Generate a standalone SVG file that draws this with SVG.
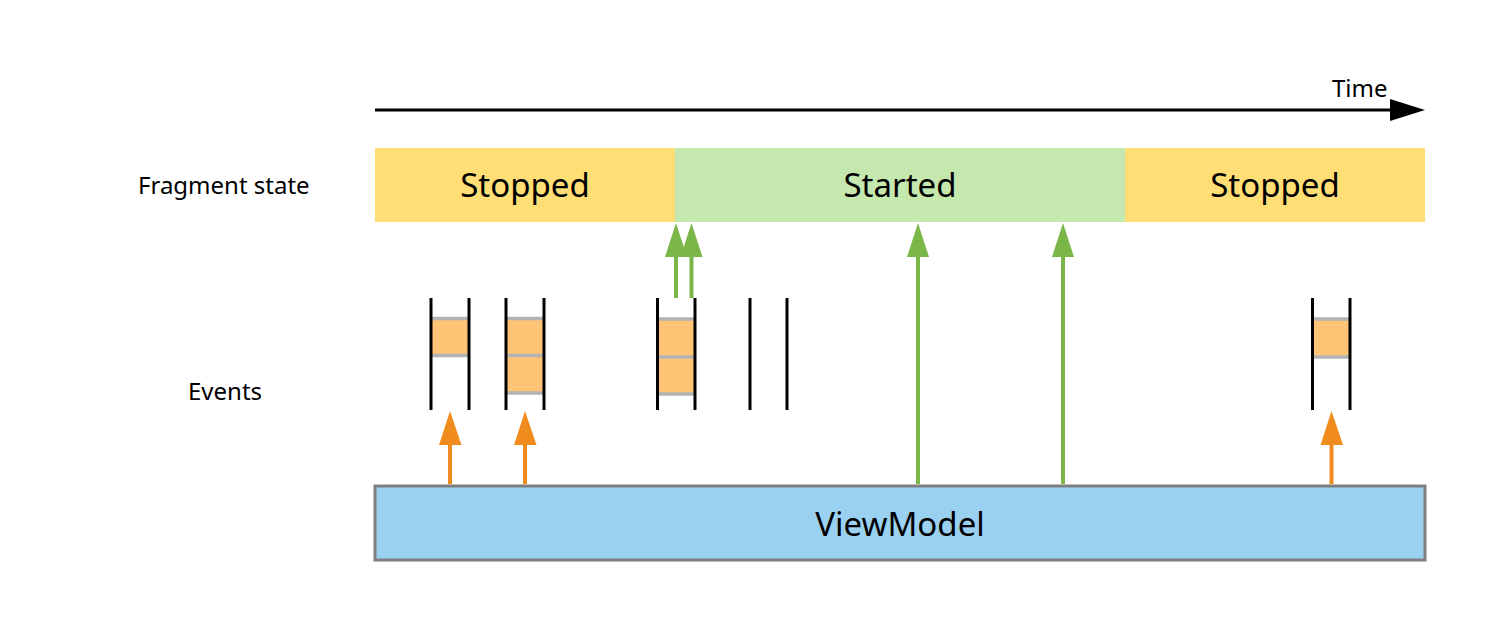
<svg xmlns="http://www.w3.org/2000/svg" width="1500" height="636" viewBox="0 0 1500 636">
<style>
text{font-family:"Noto Sans","Open Sans","DejaVu Sans",sans-serif;fill:#000}
.lbl{font-size:24px}
.st{font-size:33px;text-anchor:middle}
.bar{stroke:#000;stroke-width:3}
.gray{stroke:#b3b3b3;stroke-width:3.5}
.box{fill:#ffc476}
.oa{stroke:#f08c1e;stroke-width:4}
.ga{stroke:#7ab648;stroke-width:4}
</style>
<g id="time-axis">
<line x1="375" y1="110" x2="1392" y2="110" stroke="#000" stroke-width="3"/>
<path d="M1390,99L1425,110L1390,121z" fill="#000"/>
<text x="1332" y="96.5" class="lbl">Time</text>
</g>
<g id="row-labels">
<text x="138" y="193.5" class="lbl">Fragment state</text>
<text x="188" y="400" class="lbl">Events</text>
</g>
<g id="state-stopped-1"><rect x="375" y="148" width="300" height="74" fill="#ffde75"/><text x="525" y="197" class="st">Stopped</text></g>
<g id="state-started"><rect x="675" y="148" width="450" height="74" fill="#c5e8ae"/><text x="900" y="197" class="st">Started</text></g>
<g id="state-stopped-2"><rect x="1125" y="148" width="300" height="74" fill="#ffde75"/><text x="1275" y="197" class="st">Stopped</text></g>
<g id="viewmodel"><rect x="375" y="486" width="1050" height="74" fill="#9ad1f1" stroke="#7f7f7f" stroke-width="3"/><text x="900" y="536" class="st">ViewModel</text></g>
<g id="event-queue-1">
<rect class="box" x="432" y="320" width="36" height="35"/>
<line class="gray" x1="432" y1="318.5" x2="468" y2="318.5"/><line class="gray" x1="432" y1="355.5" x2="468" y2="355.5"/>
<line class="bar" x1="431" y1="298" x2="431" y2="410"/><line class="bar" x1="469" y1="298" x2="469" y2="410"/>
</g>
<g id="event-queue-2">
<rect class="box" x="507" y="320" width="36" height="72"/>
<line class="gray" x1="507" y1="318.5" x2="543" y2="318.5"/><line class="gray" x1="507" y1="355.5" x2="543" y2="355.5"/><line class="gray" x1="507" y1="393" x2="543" y2="393"/>
<line class="bar" x1="506" y1="298" x2="506" y2="410"/><line class="bar" x1="544" y1="298" x2="544" y2="410"/>
</g>
<g id="event-queue-3">
<rect class="box" x="658" y="320" width="36" height="74"/>
<line class="gray" x1="658" y1="319" x2="694" y2="319"/><line class="gray" x1="658" y1="357" x2="694" y2="357"/><line class="gray" x1="658" y1="394" x2="694" y2="394"/>
<line class="bar" x1="657.5" y1="298" x2="657.5" y2="410"/><line class="bar" x1="695" y1="298" x2="695" y2="410"/>
</g>
<g id="event-queue-4">
<line class="bar" x1="750" y1="298" x2="750" y2="410"/><line class="bar" x1="787" y1="298" x2="787" y2="410"/>
</g>
<g id="event-queue-5">
<rect class="box" x="1313" y="320" width="36" height="37"/>
<line class="gray" x1="1313" y1="319" x2="1349" y2="319"/><line class="gray" x1="1313" y1="357" x2="1349" y2="357"/>
<line class="bar" x1="1312.5" y1="298" x2="1312.5" y2="410"/><line class="bar" x1="1350" y1="298" x2="1350" y2="410"/>
</g>
<g id="connectors">
<line class="oa" x1="450" y1="484" x2="450" y2="444"/><path d="M439,445L450,411L461.5,445z" fill="#f08c1e"/>
<line class="oa" x1="525" y1="484" x2="525" y2="444"/><path d="M514,445L525,411L536.5,445z" fill="#f08c1e"/>
<line class="oa" x1="1331.5" y1="484" x2="1331.5" y2="444"/><path d="M1320.5,445L1331.5,411L1343,445z" fill="#f08c1e"/>
<line class="ga" x1="676" y1="298" x2="676" y2="256"/><path d="M665,257L676,223L687,257z" fill="#7ab648"/>
<line class="ga" x1="691.5" y1="298" x2="691.5" y2="256"/><path d="M680.5,257L691.5,223L702.5,257z" fill="#7ab648"/>
<line class="ga" x1="918" y1="484" x2="918" y2="256"/><path d="M907,257L918,223L929,257z" fill="#7ab648"/>
<line class="ga" x1="1063" y1="484" x2="1063" y2="256"/><path d="M1052,257L1063,223L1074,257z" fill="#7ab648"/>
</g>
</svg>
